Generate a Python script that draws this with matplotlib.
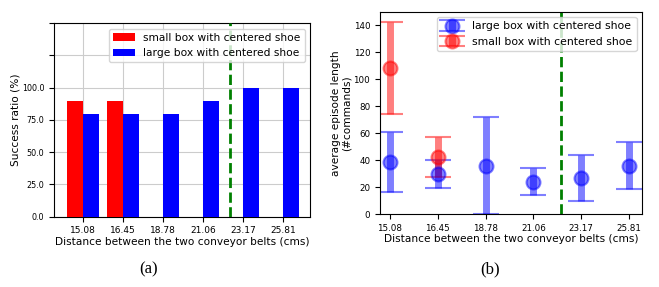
# success ratio and episode length vs conveyor belt distance
import numpy as np
import matplotlib.pyplot as plt

distances = ['15.08', '16.45', '18.78', '21.06', '23.17', '25.81']
small_success = [90, 90]                       # only first two distances
large_success = [80, 80, 80, 90, 100, 100]

large_mean = [38.7, 30.1, 36.0, 24.2, 27.1, 36.0]
large_err  = [22.4, 10.3, 36.0, 10.0, 17.0, 17.3]
small_mean = [108.0, 42.2]
small_err  = [34.0, 14.8]

line_a = 3.68    # dashed threshold position (category index units)
line_b = 3.57

fig = plt.figure(figsize=(6.59, 2.87), dpi=100)
ax1 = fig.add_axes([0.082, 0.245, 0.3885, 0.674])
ax2 = fig.add_axes([0.5766, 0.2533, 0.3976, 0.706])

x = np.arange(len(distances))

# (a) bars
ax1.bar(x[:len(small_success)] - 0.2, small_success, width=0.4, color='red',
        label='small box with centered shoe', zorder=3)
ax1.bar(x + 0.2, large_success, width=0.4, color='blue',
        label='large box with centered shoe', zorder=3)
ax1.axvline(line_a, color='green', linestyle='--', linewidth=2, zorder=4)
ax1.set_xticks(x)
ax1.set_xticklabels(distances)
yt = np.arange(0, 151, 25)
ax1.set_yticks(yt)
ax1.set_yticklabels(['%.1f' % v if v <= 100 else '' for v in yt])
ax1.set_ylim(0, 150)
ax1.set_xlim(-0.72, 5.68)
ax1.grid(True, color='#cccccc', linewidth=0.8, zorder=0)
ax1.set_axisbelow(True)
ax1.tick_params(axis='x', labelsize=6.5)
ax1.tick_params(axis='y', labelsize=5.8)
ax1.set_ylabel('Success ratio (%)', fontsize=7.6, labelpad=1)
ax1.set_xlabel('Distance between the two conveyor belts (cms)', fontsize=7.6, labelpad=1)
ax1.legend(loc='upper right', fontsize=7.7)

# (b) error bars
ekw = dict(fmt='o', alpha=0.5, markersize=10, markeredgewidth=1.5,
           capsize=9.5, elinewidth=5, capthick=2.6)
ax2.errorbar(x, large_mean, yerr=large_err, color='blue',
             label='large box with centered shoe', **ekw)
ax2.errorbar(x[:len(small_mean)], small_mean, yerr=small_err, color='red',
             label='small box with centered shoe', **ekw)
ax2.axvline(line_b, color='green', linestyle='--', linewidth=2)
ax2.set_xticks(x)
ax2.set_xticklabels(distances)
ax2.set_yticks(np.arange(0, 141, 20))
ax2.set_ylim(0, 150)
ax2.set_xlim(-0.21, 5.27)
ax2.tick_params(labelsize=6.3)
ax2.set_ylabel('average episode length\n(#commands)', fontsize=7.6, labelpad=1)
ax2.set_xlabel('Distance between the two conveyor belts (cms)', fontsize=7.6, labelpad=1)
ax2.legend(loc='upper right', fontsize=7.8)

fig.text(0.225, 0.06, '(a)', fontsize=12, family='Liberation Serif', ha='center', va='center')
fig.text(0.744, 0.06, '(b)', fontsize=12, family='Liberation Serif', ha='center', va='center')

plt.savefig('out.png', dpi=100)
